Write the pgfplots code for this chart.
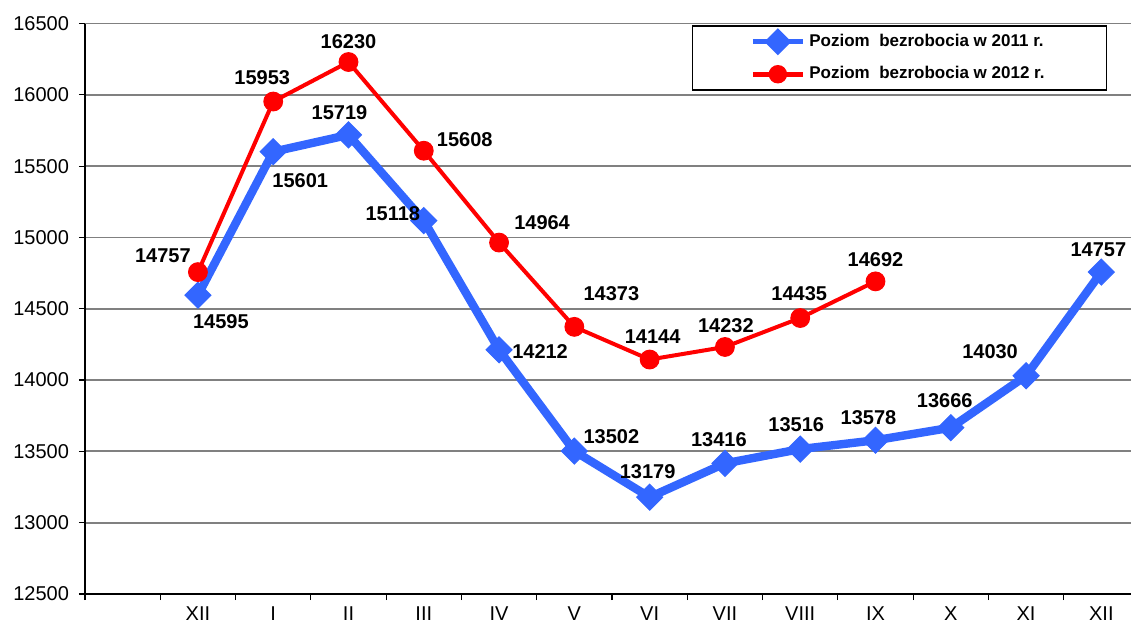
\documentclass[border=0pt]{standalone}
\usepackage{pgfplots}
\pgfplotsset{compat=1.18}
\usepackage{pgfplotstable}
\usepackage{fontspec}
\setmainfont{Liberation Sans}
\definecolor{myblue}{RGB}{51,102,255}
\definecolor{gridgray}{RGB}{128,128,128}

\pgfplotstableread{
x y dx dy
1 14595 11.5 -13
2 15601 13.5 -14.5
3 15719 -4.5 11
4 15118 -15.5 3.5
5 14212 20.5 -1
6 13502 18.5 7
7 13179 -1 13
8 13416 -3 12
9 13516 -2 12
10 13578 -3.5 11.5
11 13666 -3 13.5
12 14030 -18 12
13 14757 -1.5 11
}\blueT

\pgfplotstableread{
x y dx dy
1 14757 -17.5 8
2 15953 -5.5 12
3 16230 0 10
4 15608 20.5 5.5
5 14964 21.5 10
6 14373 18.5 16.5
7 14144 1.5 11.5
8 14232 0.5 10.5
9 14435 -0.5 12
10 14692 0 11
}\redT

\begin{document}
\begin{tikzpicture}
\begin{axis}[name=ax, scale only axis, width=527pt, height=285.25pt,
  xmin=-0.5, xmax=13.5, ymin=12500, ymax=16500,
  axis lines=left, axis line style={-, line width=0.75pt, black},
  ytick={12500,13000,...,16500}, scaled y ticks=false,
  ymajorgrids, grid style={gridgray, line width=0.9pt},
  xtick={1,...,13}, xticklabels={XII,I,II,III,IV,V,VI,VII,VIII,IX,X,XI,XII},
  major x tick style={draw=none},
  minor xtick={-0.5,0.5,...,13.5},
  tick align=outside, major tick length=3pt, minor tick length=3pt,
  tick style={black, line width=0.6pt},
  tick label style={font=\fontsize{10}{12}\selectfont},
  yticklabel style={xshift=-1.5pt},
  /pgf/number format/assume math mode=true, /pgf/number format/1000 sep={},
  legend style={at={(0.97,0.997)}, anchor=north east, draw=black, line width=0.75pt,
    inner xsep=29pt, inner ysep=2pt, row sep=4.5pt,
    font=\bfseries\fontsize{8.5}{10}\selectfont},
  legend cell align=left,
  nodes near coords, point meta=explicit symbolic,
  visualization depends on={\thisrow{dx}\as\dx},
  visualization depends on={\thisrow{dy}\as\dy},
  every node near coord/.append style={anchor=center, xshift=\dx pt, yshift=\dy pt,
    font=\bfseries\fontsize{10}{12}\selectfont, text=black},
]
\addplot[myblue, line width=4.2pt, mark=square*, mark size=4.6pt,
  mark options={rotate=45, line width=0.5pt, solid},
  legend image code/.code={
    \draw[myblue, line width=2.5pt] (0pt,0pt) -- (25pt,0pt);
    \fill[myblue] (12.5pt,3.8pt) -- (16.3pt,0pt) -- (12.5pt,-3.8pt) -- (8.7pt,0pt) -- cycle;}]
  table[x=x, y=y, meta=y] {\blueT};
\addlegendentry{Poziom\ \ bezrobocia w 2011 r.}
\addplot[red, line width=2pt, mark=*, mark size=4.7pt,
  mark options={line width=0.5pt, solid},
  legend image code/.code={
    \draw[red, line width=2.5pt] (0pt,0pt) -- (25pt,0pt);
    \fill[red] (12.5pt,0pt) circle (3.6pt);}]
  table[x=x, y=y, meta=y] {\redT};
\addlegendentry{Poziom\ \ bezrobocia w 2012 r.}
\end{axis}
\pgfresetboundingbox
\path (ax.south west) ++(-42.5pt,-17pt) rectangle ++(565.5pt,314pt);
\end{tikzpicture}
\end{document}
